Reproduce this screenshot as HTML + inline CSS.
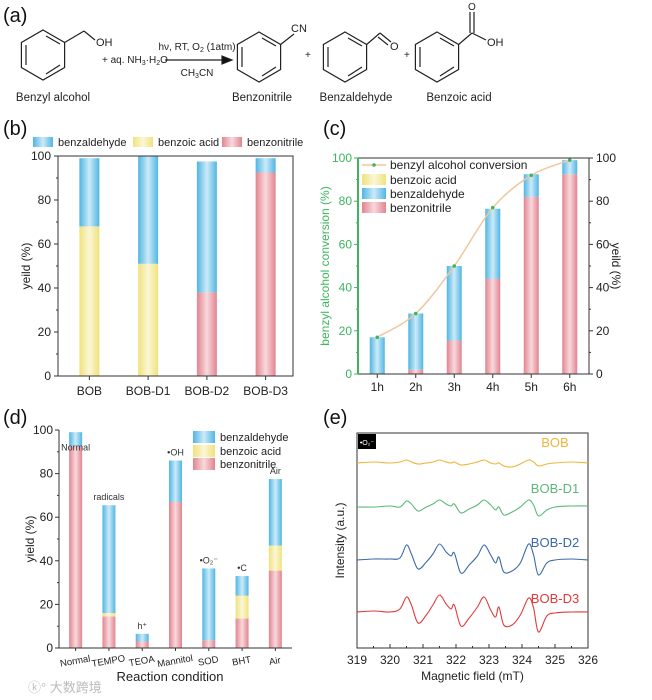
<!DOCTYPE html>
<html><head><meta charset="utf-8"><style>
html,body{margin:0;padding:0;background:#fff;}
svg{display:block;font-family:"Liberation Sans","Noto Sans CJK SC",sans-serif;}
</style></head><body>
<svg id="fig" width="652" height="700" viewBox="0 0 652 700" xmlns="http://www.w3.org/2000/svg">
<defs>
<linearGradient id="gBlue" x1="0" x2="1" y1="0" y2="0"><stop offset="0" stop-color="#4fb6e4"/><stop offset="0.5" stop-color="#cdeaf7"/><stop offset="1" stop-color="#4fb6e4"/></linearGradient>
<linearGradient id="gYel" x1="0" x2="1" y1="0" y2="0"><stop offset="0" stop-color="#f0e27c"/><stop offset="0.5" stop-color="#fbf7d6"/><stop offset="1" stop-color="#f0e27c"/></linearGradient>
<linearGradient id="gRed" x1="0" x2="1" y1="0" y2="0"><stop offset="0" stop-color="#e2848f"/><stop offset="0.5" stop-color="#f8d9dd"/><stop offset="1" stop-color="#e2848f"/></linearGradient>
</defs>
<!-- scheme (a) -->
<g stroke="#222" stroke-width="1.2" fill="none">
<text x="3" y="22" font-size="20" fill="#111" stroke="none">(a)</text>
<g>
<polygon points="43,30 64.6,42.5 64.6,67.5 43,80 21.4,67.5 21.4,42.5"/>
<line x1="46" y1="36" x2="60" y2="44"/><line x1="60" y1="65" x2="46" y2="74"/><line x1="26" y1="45" x2="26" y2="65"/>
<line x1="64.6" y1="42.5" x2="84" y2="31"/><line x1="84" y1="31" x2="95" y2="40"/>
<text x="96" y="46" font-size="11" fill="#222" stroke="none">OH</text>
</g>
<text x="102" y="63" font-size="10" fill="#222" stroke="none">+ aq. NH<tspan font-size="7" dy="2">3</tspan><tspan dy="-2">·H</tspan><tspan font-size="7" dy="2">2</tspan><tspan dy="-2">O</tspan></text>
<line x1="165" y1="60" x2="222" y2="60"/>
<polygon points="222,56 232,60 222,64" fill="#111"/>
<text x="197" y="50" font-size="10" text-anchor="middle" fill="#222" stroke="none">hν, RT, O<tspan font-size="7" dy="2">2</tspan><tspan dy="-2"> (1atm)</tspan></text>
<text x="197" y="76" font-size="10" text-anchor="middle" fill="#222" stroke="none">CH<tspan font-size="7" dy="2">3</tspan><tspan dy="-2">CN</tspan></text>
<g>
<polygon points="259,32 280.6,44.5 280.6,69.5 259,82 237.4,69.5 237.4,44.5"/>
<line x1="262" y1="38" x2="276" y2="46"/><line x1="276" y1="67" x2="262" y2="76"/><line x1="242" y1="47" x2="242" y2="67"/>
<line x1="280.6" y1="44.5" x2="294" y2="34"/>
<text x="291" y="32" font-size="11" fill="#222" stroke="none">CN</text>
</g>
<text x="305" y="58" font-size="10" fill="#222" stroke="none">+</text>
<g>
<polygon points="345,32 366.6,44.5 366.6,69.5 345,82 323.4,69.5 323.4,44.5"/>
<line x1="348" y1="38" x2="362" y2="46"/><line x1="362" y1="67" x2="348" y2="76"/><line x1="328" y1="47" x2="328" y2="67"/>
<line x1="366.6" y1="44.5" x2="380" y2="33"/><line x1="380" y1="33" x2="391" y2="42"/><line x1="378" y1="37" x2="388" y2="45"/>
<text x="390" y="50" font-size="11" fill="#222" stroke="none">O</text>
</g>
<text x="404" y="58" font-size="10" fill="#222" stroke="none">+</text>
<g>
<polygon points="437,32 458.6,44.5 458.6,69.5 437,82 415.4,69.5 415.4,44.5"/>
<line x1="440" y1="38" x2="454" y2="46"/><line x1="454" y1="67" x2="440" y2="76"/><line x1="420" y1="47" x2="420" y2="67"/>
<line x1="458.6" y1="44.5" x2="472" y2="33"/><line x1="470" y1="33" x2="470" y2="12"/><line x1="474" y1="33" x2="474" y2="12"/>
<line x1="472" y1="33" x2="486" y2="40"/>
<text x="468" y="10" font-size="10" fill="#222" stroke="none">O</text>
<text x="487" y="46" font-size="11" fill="#222" stroke="none">OH</text>
</g>
<g font-size="11.5" fill="#222" stroke="none" text-anchor="middle">
<text x="53" y="101">Benzyl alcohol</text>
<text x="262" y="101">Benzonitrile</text>
<text x="356" y="101">Benzaldehyde</text>
<text x="459" y="101">Benzoic acid</text>
</g>
</g>
<text x="3" y="135" font-size="20" fill="#111">(b)</text>
<text x="323" y="135" font-size="20" fill="#111">(c)</text>
<text x="3" y="424" font-size="20" fill="#111">(d)</text>
<text x="323" y="424" font-size="20" fill="#111">(e)</text>
<text x="28" y="692" font-size="13" fill="#bbb">ⓚ° 大数跨境</text>
</svg>
<script>
const NS='http://www.w3.org/2000/svg';
const svg=document.getElementById('fig');
function mk(tag,attrs,parent){const e=document.createElementNS(NS,tag);for(const k in attrs)e.setAttribute(k,attrs[k]);(parent||svg).appendChild(e);return e;}
function txt(s,attrs,parent){const e=mk('text',attrs,parent);e.textContent=s;return e;}
function smooth(pts){let d=`M${pts[0][0]},${pts[0][1]}`;
  for(let i=0;i<pts.length-1;i++){
    const p0=pts[Math.max(i-1,0)],p1=pts[i],p2=pts[i+1],p3=pts[Math.min(i+2,pts.length-1)];
    d+=` C${(p1[0]+(p2[0]-p0[0])/6).toFixed(1)},${(p1[1]+(p2[1]-p0[1])/6).toFixed(1)} ${(p2[0]-(p3[0]-p1[0])/6).toFixed(1)},${(p2[1]-(p3[1]-p1[1])/6).toFixed(1)} ${p2[0].toFixed(1)},${p2[1].toFixed(1)}`;
  }return d;}

// ---------- panel (b) data ----------
const bCats=['BOB','BOB-D1','BOB-D2','BOB-D3'];
const bNitrile=[0,0,38,92.5];
const bAcid=[68,51,0,0];
const bAldehyde=[31,49,59.5,6.5];
const bTicks=[0,20,40,60,80,100];

// ---------- panel (c) data ----------
const cCats=['1h','2h','3h','4h','5h','6h'];
const cNitrile=[0,2,15.5,44,82,92.5];
const cAldehyde=[17,26,34.5,32.5,10.5,6.5];
const cConversion=[17,28,50,77,92,99];
const cTicks=[0,20,40,60,80,100];

// ---------- panel (d) data ----------
const dCats=['Normal','TEMPO','TEOA','Mannitol','SOD','BHT','Air'];
const dNitrile=[92.5,14.5,3,67,3.5,13.5,35.5];
const dAcid=[0,1.5,0,0,0,10.5,11.5];
const dAldehyde=[6.5,49.5,3.5,19,33,9,30.5];
const dNotes=['Normal','radicals','h⁺','•OH','•O₂⁻','•C','Air'];
const dTicks=[0,20,40,60,80,100];

// ---------- panel (e) data ----------
const eFields=[319,319.5,320,320.3,320.5,320.65,320.85,321.1,321.3,321.5,321.7,321.85,321.95,322.15,322.4,322.65,322.85,323.05,323.2,323.3,323.45,323.7,323.95,324.2,324.35,324.5,324.75,325,325.5,326];
const eBOB=[0,1,0,1,3,1,-1,0,1,3,1,0,1,-2,-1,1,3,0,-1,0,-3,-4,-1,3,1,-3,-1,0,1,0];
const eD1=[0,0,1,0,6,3,-4,0,3,7,3,1,3,-6,-2,2,7,2,-3,0,-8,-5,0,7,2,-9,-3,0,1,1];
const eD2=[0,1,1,2,15,6,-9,-2,6,16,8,4,7,-13,-5,4,15,5,-3,3,-12,-11,-3,16,5,-15,-3,0,1,0];
const eD3=[0,1,0,3,15,7,-11,-3,7,17,8,3,7,-14,-6,5,15,2,-5,5,-13,-13,-3,14,4,-20,-4,-1,0,0];
const eNames=['BOB','BOB-D1','BOB-D2','BOB-D3'];
const eTicks=[319,320,321,322,323,324,325,326];

const fills={n:'url(#gRed)',a:'url(#gYel)',l:'url(#gBlue)'};

// ================= Panel (b) =================
(function(){
  const L=58,R=293,T=156,B=376;
  const y=v=>B-(v/100)*(B-T);
  const x=i=>L+(R-L)*(i+0.5)/bCats.length+2;
  const g=mk('g',{});
  
  
  bCats.forEach((c,i)=>{
    const w=20;let base=0;
    [['n',bNitrile[i]],['a',bAcid[i]],['l',bAldehyde[i]]].forEach(([k,v])=>{
      if(v>0){const r=mk('rect',{x:x(i)-w/2,y:y(base+v),width:w,height:y(base)-y(base+v),fill:fills[k]},g);
      
      }
      base+=v;
    });
    mk('line',{x1:x(i),x2:x(i),y1:B,y2:B+4,stroke:'#333'},g);
    const t=txt(c,{x:x(i),y:B+19,'font-size':12,'text-anchor':'middle',fill:'#222'},g);
    
    
  });
  const fr=mk('rect',{x:L,y:T,width:R-L,height:B-T,fill:'none',stroke:'#333','stroke-width':1},g);
  
  
  bTicks.forEach(v=>{
    mk('line',{x1:L-4,x2:L,y1:y(v),y2:y(v),stroke:'#333'},g);
    if(v<100)mk('line',{x1:L-2,x2:L,y1:y(v+10),y2:y(v+10),stroke:'#333'},g);
    const t=txt(String(v),{x:L-7,y:y(v)+4,'font-size':12,'text-anchor':'end',fill:'#222'},g);
    
    
  });
  const yl=txt('yeild (%)',{x:0,y:0,'font-size':12,'text-anchor':'middle',fill:'#222',transform:`translate(30,${(T+B)/2}) rotate(-90)`},g);
  
  
  const leg=[['l','benzaldehyde',33],['a','benzoic acid',133],['n','benzonitrile',222]];
  leg.forEach(([k,s,lx])=>{
    const e=mk('g',{},g);
    
    
    mk('rect',{x:lx,y:137,width:20,height:10,fill:fills[k]},e);
    txt(s,{x:lx+25,y:146,'font-size':11,fill:'#222'},e);
  });
})();

// ================= Panel (c) =================
(function(){
  const L=358,R=589,T=158,B=374;
  const y=v=>B-(v/100)*(B-T);
  const x=i=>L+(R-L)*(i+0.5)/cCats.length;
  const g=mk('g',{});
  
  
  cCats.forEach((c,i)=>{
    const w=15;let base=0;
    [['n',cNitrile[i]],['l',cAldehyde[i]]].forEach(([k,v])=>{
      if(v>0){const r=mk('rect',{x:x(i)-w/2,y:y(base+v),width:w,height:y(base)-y(base+v),fill:fills[k]},g);
      
      }
      base+=v;
    });
    mk('line',{x1:x(i),x2:x(i),y1:B,y2:B+4,stroke:'#333'},g);
    const t=txt(c,{x:x(i),y:B+17,'font-size':12,'text-anchor':'middle',fill:'#222'},g);
    
    
  });
  const pts=cConversion.map((v,i)=>[x(i),y(v)]);
  const ln=mk('path',{d:smooth(pts),fill:'none',stroke:'#f0c79c','stroke-width':1.5},g);
  
  
  pts.forEach(p=>{
    const c=mk('circle',{cx:p[0],cy:p[1],r:1.8,fill:'#3cb55e'},g);
    
    
  });
  mk('line',{x1:L,x2:R,y1:T,y2:T,stroke:'#333'},g);
  mk('line',{x1:L,x2:R,y1:B,y2:B,stroke:'#333'},g);
  mk('line',{x1:R,x2:R,y1:T,y2:B,stroke:'#333'},g);
  const la=mk('line',{x1:L,x2:L,y1:T,y2:B,stroke:'#3cb55e','stroke-width':2},g);
  
  
  cTicks.forEach(v=>{
    mk('line',{x1:L-4,x2:L,y1:y(v),y2:y(v),stroke:'#3cb55e'},g);
    mk('line',{x1:R,x2:R+4,y1:y(v),y2:y(v),stroke:'#333'},g);
    if(v<100){mk('line',{x1:L-2,x2:L,y1:y(v+10),y2:y(v+10),stroke:'#3cb55e'},g);mk('line',{x1:R,x2:R+2,y1:y(v+10),y2:y(v+10),stroke:'#333'},g);}
    const t=txt(String(v),{x:L-6,y:y(v)+4,'font-size':12,'text-anchor':'end',fill:'#3cb55e'},g);
    
    
    const t2=txt(String(v),{x:R+7,y:y(v)+4,'font-size':12,fill:'#222'},g);
    
    
  });
  const yl=txt('benzyl alcohol conversion (%)',{x:0,y:0,'font-size':12,'text-anchor':'middle',fill:'#3cb55e',transform:`translate(329,${(T+B)/2}) rotate(-90)`},g);
  
  
  const yr=txt('yeild (%)',{x:0,y:0,'font-size':12,'text-anchor':'middle',fill:'#222',transform:`translate(612,${(T+B)/2}) rotate(90)`},g);
  
  
  const lg=mk('g',{},g);
  
  
  mk('line',{x1:362,x2:386,y1:165,y2:165,stroke:'#f0c79c','stroke-width':1.5},lg);
  mk('circle',{cx:374,cy:165,r:1.8,fill:'#3cb55e'},lg);
  txt('benzyl alcohol conversion',{x:390,y:169,'font-size':12,fill:'#222'},lg);
  [['a','benzoic acid',180],['l','benzaldehyde',194],['n','benzonitrile',208]].forEach(([k,s,ly])=>{
    const e=mk('g',{},lg);
    
    
    mk('rect',{x:362,y:ly-6,width:24,height:11,fill:fills[k]},e);
    txt(s,{x:390,y:ly+4,'font-size':12,fill:'#222'},e);
  });
})();

// ================= Panel (d) =================
(function(){
  const L=59,R=292,T=430,B=648;
  const y=v=>B-(v/100)*(B-T);
  const x=i=>L+(R-L)*(i+0.5)/dCats.length;
  const g=mk('g',{});
  
  
  dCats.forEach((c,i)=>{
    const w=13;let base=0;
    [['n',dNitrile[i]],['a',dAcid[i]],['l',dAldehyde[i]]].forEach(([k,v])=>{
      if(v>0){const r=mk('rect',{x:x(i)-w/2,y:y(base+v),width:w,height:y(base)-y(base+v),fill:fills[k]},g);
      
      }
      base+=v;
    });
    const ny=i===0?y(dNitrile[0])+4:y(base)-5;
    const n=txt(dNotes[i],{x:x(i),y:ny,'font-size':9,'text-anchor':'middle',fill:'#333'},g);
    
    
    mk('line',{x1:x(i),x2:x(i),y1:B,y2:B+3,stroke:'#333'},g);
    const t=txt(c,{x:0,y:0,'font-size':9.5,'text-anchor':'middle',fill:'#222',transform:`translate(${x(i)},${B+16}) rotate(-10)`},g);
    
    
  });
  mk('line',{x1:L,x2:L,y1:T,y2:B,stroke:'#333'},g);
  mk('line',{x1:L,x2:R,y1:B,y2:B,stroke:'#333'},g);
  dTicks.forEach(v=>{
    mk('line',{x1:L-4,x2:L,y1:y(v),y2:y(v),stroke:'#333'},g);
    if(v<100)mk('line',{x1:L-2,x2:L,y1:y(v+10),y2:y(v+10),stroke:'#333'},g);
    const t=txt(String(v),{x:L-6,y:y(v)+4,'font-size':12,'text-anchor':'end',fill:'#222'},g);
    
    
  });
  const yl=txt('yield  (%)',{x:0,y:0,'font-size':12,'text-anchor':'middle',fill:'#222',transform:`translate(34,${(T+B)/2}) rotate(-90)`},g);
  
  
  const xl=txt('Reaction condition',{x:170,y:681,'font-size':13,'text-anchor':'middle',fill:'#222'},g);
  
  
  [['l','benzaldehyde',437],['a','benzoic acid',451],['n','benzonitrile',464]].forEach(([k,s,ly])=>{
    const e=mk('g',{},g);
    
    
    mk('rect',{x:193,y:ly-6,width:22,height:12,fill:fills[k]},e);
    txt(s,{x:220,y:ly+4,'font-size':11,fill:'#222'},e);
  });
})();

// ================= Panel (e) =================
(function(){
  const L=357,R=588,T=433,B=648;
  const x=f=>L+(f-319)/(326-319)*(R-L);
  const bases=[463,507,560,612];
  const cols=['#f0b43a','#5cb87a','#3a6aa8','#e03a3a'];
  const labY=[447,493,547,603];
  const series=[eBOB,eD1,eD2,eD3];
  const g=mk('g',{});
  
  
  const fr=mk('rect',{x:L,y:T,width:R-L,height:B-T,fill:'none',stroke:'#333'},g);
  
  
  series.forEach((vals,si)=>{
    const pts=vals.map((v,i)=>[x(eFields[i]),bases[si]-v]);
    const p=mk('path',{d:smooth(pts),fill:'none',stroke:cols[si],'stroke-width':1.1,'stroke-linejoin':'round'},g);
    
    
    const t=txt(eNames[si],{x:555,y:labY[si],'font-size':13,'text-anchor':'middle',fill:cols[si]},g);
    
    
  });
  eTicks.forEach((f,i)=>{
    mk('line',{x1:x(f),x2:x(f),y1:B,y2:B-4,stroke:'#333'},g);
    if(i<eTicks.length-1)mk('line',{x1:x(f+0.5),x2:x(f+0.5),y1:B,y2:B-2,stroke:'#333'},g);
    const t=txt(String(f),{x:x(f),y:B+16,'font-size':12,'text-anchor':'middle',fill:'#222'},g);
    
    
  });
  const xl=txt('Magnetic field (mT)',{x:(L+R)/2,y:680,'font-size':12,'text-anchor':'middle',fill:'#222'},g);
  
  
  const yl=txt('Intensity (a.u.)',{x:0,y:0,'font-size':12,'text-anchor':'middle',fill:'#222',transform:`translate(344,${(T+B)/2}) rotate(-90)`},g);
  
  
  const bx=mk('rect',{x:358,y:434,width:18,height:15,fill:'#000'},g);
  
  
  txt('•O₂⁻',{x:367,y:445,'font-size':7,'text-anchor':'middle',fill:'#fff'},g);
})();
</script>
</body></html>
